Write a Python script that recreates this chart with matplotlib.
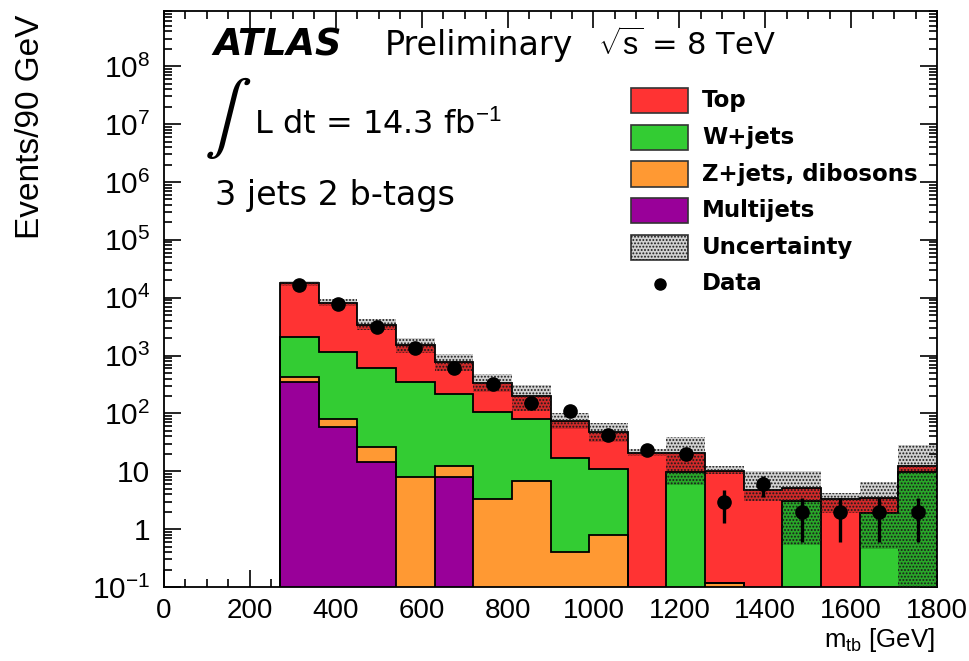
import numpy as np
import matplotlib
matplotlib.use("Agg")
import matplotlib.pyplot as plt
from matplotlib.patches import Rectangle
from matplotlib.lines import Line2D
from matplotlib.ticker import FixedLocator, MultipleLocator, LogLocator, NullFormatter

# ---------------- data ----------------
bin_edges = [270, 360, 450, 540, 630, 720, 810, 900, 990, 1080, 1170,
             1260, 1350, 1440, 1530, 1620, 1710, 1800]
top      = [15570, 6790, 2783, 1183, 564, 233, 119.5, 58.1, 37.0, 21.0, 11.1,
            10.1, 4.8, 2.1, 3.3, 1.6, 2.2]
wjets    = [1705, 1090, 591, 336, 207, 103, 74.7, 16.5, 10.2, 0, 9.9,
            0, 0, 3.1, 0, 1.9, 9.9]
zjets    = [73, 21, 11.4, 8.1, 4.3, 3.3, 6.8, 0.41, 0.79, 0, 0,
            0.115, 0, 0, 0, 0, 0]
multijet = [352, 59, 14.6, 0, 8.0, 0, 0, 0, 0, 0, 0,
            0, 0, 0, 0, 0, 0]
unc_lo   = [16140, 7080, 2750, 1120, 537, 237, 112, 54, 32, 18.5, 5.7,
            8.9, 3.1, 0.54, 1.9, 0.46, 0.05]
unc_hi   = [19190, 9620, 4270, 2040, 1070, 473, 309, 100, 67, 24, 38.6,
            12.1, 10.2, 10.2, 4.2, 6.5, 28.5]
data     = [16800, 7700, 3140, 1372, 617, 318, 152, 112, 42, 23, 20,
            3, 6, 2, 2, 2, 2]
data_err = [130, 88, 56, 37, 25, 18, 12, 11, 6.5, 4.8, 4.5,
            1.7, 2.4, 1.4, 1.4, 1.4, 1.4]

legend_labels = ["Top", "W+jets", "Z+jets, dibosons", "Multijets", "Uncertainty", "Data"]
x_ticks = [0, 200, 400, 600, 800, 1000, 1200, 1400, 1600, 1800]
y_ticks = [0.1, 1, 10, 1e2, 1e3, 1e4, 1e5, 1e6, 1e7, 1e8]
y_ticklabels = [r"$10^{-1}$", "1", "10", r"$10^{2}$", r"$10^{3}$", r"$10^{4}$",
                r"$10^{5}$", r"$10^{6}$", r"$10^{7}$", r"$10^{8}$"]

# ---------------- style ----------------
plt.rcParams["mathtext.fontset"] = "custom"
plt.rcParams["mathtext.rm"] = "Liberation Sans"
plt.rcParams["mathtext.it"] = "Liberation Sans:italic"
plt.rcParams["mathtext.bf"] = "Liberation Sans:bold"
plt.rcParams["hatch.linewidth"] = 0.9

c_top = "#FF3333"
c_w = "#33CC33"
c_z = "#FF9933"
c_mj = "#990099"
unc_face = (0, 0, 0, 0.18)
unc_hatch = "#1a1a1a"
unc_pattern = "....."

W, H = 970, 661
fig = plt.figure(figsize=(W / 100, H / 100), dpi=100)
ax_l, ax_r, ax_t, ax_b = 164, 937, 11, 587
ax = fig.add_axes([ax_l / W, 1 - ax_b / H, (ax_r - ax_l) / W, (ax_b - ax_t) / H])
ax.set_yscale("log")

edges = np.array(bin_edges, dtype=float)
mj = np.array(multijet, dtype=float)
zj = np.array(zjets, dtype=float)
wj = np.array(wjets, dtype=float)
tp = np.array(top, dtype=float)
cum_mj = mj
cum_z = cum_mj + zj
cum_w = cum_z + wj
cum_t = cum_w + tp

floor = 1e-3
for vals, col in [(cum_t, c_top), (cum_w, c_w), (cum_z, c_z), (cum_mj, c_mj)]:
    v = np.where(vals > 0, vals, floor)
    ax.stairs(v, edges, baseline=floor, fill=True, color=col, zorder=2)
    ax.stairs(v, edges, baseline=floor, fill=False, color="black", lw=1.3, zorder=3)

# uncertainty band
ax.stairs(np.array(unc_hi), edges, baseline=np.array(unc_lo), fill=True,
          facecolor=unc_face, edgecolor=unc_hatch, hatch=unc_pattern, linewidth=0, zorder=4)

# data
centers = 0.5 * (edges[:-1] + edges[1:])
ax.errorbar(centers, data, yerr=data_err, fmt="o", color="black", ms=9.5,
            elinewidth=2.4, capsize=0, zorder=6)

ax.set_xlim(0, 1800)
ax.set_ylim(0.1, 9e8)

ax.xaxis.set_major_locator(FixedLocator(x_ticks))
ax.xaxis.set_minor_locator(MultipleLocator(50))
ax.yaxis.set_major_locator(FixedLocator(y_ticks))
ax.yaxis.set_minor_locator(LogLocator(base=10, subs=np.arange(2, 10), numticks=50))
ax.yaxis.set_minor_formatter(NullFormatter())
ax.set_yticklabels(y_ticklabels)
ax.set_xticklabels([str(t) for t in x_ticks])

ax.tick_params(which="both", direction="in", top=True, right=True, width=1.2)
ax.tick_params(which="major", length=12)
ax.tick_params(which="minor", length=6)
ax.tick_params(axis="x", pad=8, labelsize=20)
ax.tick_params(axis="y", pad=10, labelsize=21.5)
for lab in ax.get_xticklabels() + ax.get_yticklabels():
    lab.set_fontfamily("Liberation Sans")
for sp in ax.spines.values():
    sp.set_linewidth(1.3)

ax.set_ylabel("Events/90 GeV", fontsize=24, family="Liberation Sans", loc="top")
ax.yaxis.set_label_coords((46 - ax_l) / (ax_r - ax_l), 1 - (15 - ax_t) / (ax_b - ax_t))
ax.set_xlabel(r"m$_{\mathrm{tb}}$ [GeV]", fontsize=18.5, family="Liberation Sans", loc="right")
ax.xaxis.set_label_coords((935 - ax_l) / (ax_r - ax_l), -(626 - ax_b) / (ax_b - ax_t))

# ---------------- annotations ----------------
def fx(px):
    return px / W

def fy(py):
    return 1 - py / H

fig.text(fx(213), fy(55), "ATLAS", fontsize=26.5, fontweight="bold", fontstyle="italic",
         family="DejaVu Sans", va="baseline")
fig.text(fx(385), fy(55), "Preliminary", fontsize=24, family="DejaVu Sans", va="baseline")
fig.text(fx(598), fy(55), r"$\sqrt{\mathrm{s}}$ = 8 TeV", fontsize=22, family="DejaVu Sans", va="baseline")
fig.text(fx(228), fy(118), r"$\int$", fontsize=51, math_fontfamily="stix",
         ha="center", va="center")
fig.text(fx(254), fy(134), r"L dt = 14.3 fb$^{\mathrm{-1}}$", fontsize=23, family="DejaVu Sans", va="baseline")
fig.text(fx(215), fy(205), "3 jets 2 b-tags", fontsize=24, family="DejaVu Sans", va="baseline")

# legend (manual)
row_y = [100.7, 137.3, 174.0, 210.7, 247.3, 284.0]
box_cols = [c_top, c_w, c_z, c_mj]
for i, lab in enumerate(legend_labels):
    yc = row_y[i]
    if i < 4:
        fig.add_artist(Rectangle((fx(631), fy(yc + 12.5)), (688 - 631) / W, 25 / H,
                                 transform=fig.transFigure, facecolor=box_cols[i],
                                 edgecolor="#333333", lw=1.2))
    elif i == 4:
        fig.add_artist(Rectangle((fx(631), fy(yc + 12.5)), (688 - 631) / W, 25 / H,
                                 transform=fig.transFigure, facecolor="white",
                                 edgecolor="#333333", lw=1.2))
        fig.add_artist(Rectangle((fx(631), fy(yc + 12.5)), (688 - 631) / W, 25 / H,
                                 transform=fig.transFigure, facecolor=unc_face,
                                 edgecolor=unc_hatch, hatch=unc_pattern, lw=0))
    else:
        fig.add_artist(Line2D([fx(660)], [fy(yc)], marker="o", color="black", ms=8,
                              transform=fig.transFigure))
    fig.text(fx(702), fy(yc), lab, fontsize=16.5, fontweight="bold", family="DejaVu Sans",
             va="center")

fig.savefig("out.png", dpi=100)
